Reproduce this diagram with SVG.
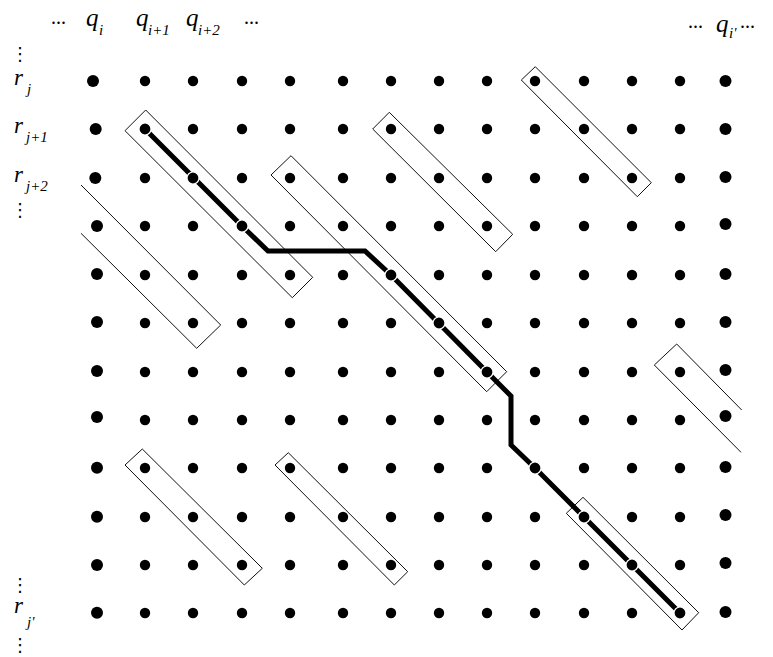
<svg xmlns="http://www.w3.org/2000/svg" xmlns:xlink="http://www.w3.org/1999/xlink" width="773" height="657" viewBox="0 0 773 657">
<style>
.bg{fill:#fff}
.box{fill:none;stroke:#111;stroke-width:1}
.path{fill:none;stroke:#000;stroke-width:5;stroke-linejoin:miter}
.dot{fill:#000}
.pd{fill:#000;stroke:#fff;stroke-width:1.2}
.lbl{font-family:"Liberation Serif","Times New Roman",serif;font-style:italic;fill:#000}
.big{font-size:25px}
.r{font-size:23px}
.sub{font-size:15px}
.ell{font-family:"Liberation Serif","Times New Roman",serif;font-size:20px;fill:#000}
.vd{font-family:"DejaVu Sans",sans-serif;font-size:18px;fill:#000}
</style>
<defs>
<g id="row">
<circle class="dot" cx="145" cy="0" r="5.2"/><circle class="dot" cx="193" cy="0" r="5.2"/><circle class="dot" cx="242" cy="0" r="5.2"/><circle class="dot" cx="290" cy="0" r="5.2"/><circle class="dot" cx="343" cy="0" r="5.2"/><circle class="dot" cx="391" cy="0" r="5.2"/><circle class="dot" cx="439" cy="0" r="5.2"/><circle class="dot" cx="487" cy="0" r="5.2"/><circle class="dot" cx="535" cy="0" r="5.2"/><circle class="dot" cx="584" cy="0" r="5.2"/><circle class="dot" cx="632" cy="0" r="5.2"/><circle class="dot" cx="680" cy="0" r="5.2"/>
</g>
</defs>
<rect class="bg" x="0" y="0" width="773" height="657"/>

<g id="boxes">
<polygon id="boxA" class="box" points="145.7,110 312.7,277.3 292.3,297.7 125,130.7"/>
<polygon id="boxB" class="box" points="389.3,112.3 512.7,234.3 495.7,251.7 372.7,129"/>
<polygon id="boxC" class="box" points="535.3,66.7 651.3,182.7 637.3,196.7 521.3,80"/>
<polygon id="boxD" class="box" points="291,155.7 506.7,371.7 486.7,391.7 271,175"/>
<polyline id="boxE" class="box" points="81,185 220.7,325 196.7,348.3 81,233.3"/>
<polyline id="boxF" class="box" points="741.7,410 676.7,344 654.3,365 741,452.3"/>
<polygon id="boxG" class="box" points="142.3,449 262.3,568.3 244.3,585 125,465"/>
<polygon id="boxH" class="box" points="288.3,452.7 407.7,571.7 394.3,585 275,465"/>
<polygon id="boxI" class="box" points="583,497.3 698.7,612.7 682,630 566.3,513.3"/>
</g>

<g id="connectors">
<path class="path" d="M145,129 L242,226 L268,251 L365,251 L391,275 L487,372 L511,396 L511,445 L535,468 L680,613"/>
</g>

<g id="dots">
<use xlink:href="#row" href="#row" y="81"/>
<use xlink:href="#row" href="#row" y="129"/>
<use xlink:href="#row" href="#row" y="178"/>
<use xlink:href="#row" href="#row" y="226"/>
<use xlink:href="#row" href="#row" y="275"/>
<use xlink:href="#row" href="#row" y="323"/>
<use xlink:href="#row" href="#row" y="372"/>
<use xlink:href="#row" href="#row" y="420"/>
<use xlink:href="#row" href="#row" y="468"/>
<use xlink:href="#row" href="#row" y="517"/>
<use xlink:href="#row" href="#row" y="565"/>
<use xlink:href="#row" href="#row" y="613"/>
<circle class="dot" cx="93" cy="81" r="6"/>
<circle class="dot" cx="95.7" cy="129" r="6"/>
<circle class="dot" cx="95.3" cy="178" r="6"/>
<circle class="dot" cx="97" cy="226" r="6"/>
<circle class="dot" cx="97" cy="274" r="6"/>
<circle class="dot" cx="97" cy="322" r="6"/>
<circle class="dot" cx="97" cy="371" r="6"/>
<circle class="dot" cx="97" cy="417" r="6"/>
<circle class="dot" cx="97" cy="467.7" r="6"/>
<circle class="dot" cx="97" cy="516.7" r="6"/>
<circle class="dot" cx="97" cy="565" r="6"/>
<circle class="dot" cx="97" cy="612.7" r="6"/>
<circle class="dot" cx="725.5" cy="81" r="6"/>
<circle class="dot" cx="725.5" cy="129" r="6"/>
<circle class="dot" cx="725.5" cy="177" r="6"/>
<circle class="dot" cx="725.5" cy="224" r="6"/>
<circle class="dot" cx="725.5" cy="274" r="6"/>
<circle class="dot" cx="725.5" cy="322" r="6"/>
<circle class="dot" cx="725.5" cy="370" r="6"/>
<circle class="dot" cx="725.5" cy="416" r="6"/>
<circle class="dot" cx="725.5" cy="467" r="6"/>
<circle class="dot" cx="725.5" cy="515" r="6"/>
<circle class="dot" cx="725.5" cy="563" r="6"/>
<circle class="dot" cx="725.5" cy="612" r="6"/>
<circle class="pd" cx="145" cy="129" r="6"/>
<circle class="pd" cx="193" cy="178" r="6"/>
<circle class="pd" cx="242" cy="226" r="6"/>
<circle class="pd" cx="391" cy="275" r="6"/>
<circle class="pd" cx="439" cy="323" r="6"/>
<circle class="pd" cx="487" cy="372" r="6"/>
<circle class="pd" cx="535" cy="468" r="6"/>
<circle class="pd" cx="584" cy="517" r="6"/>
<circle class="pd" cx="632" cy="565" r="6"/>
<circle class="pd" cx="680" cy="613" r="6"/>
</g>

<g id="labels">
<text class="ell" x="51" y="24">...</text>
<text class="lbl big" x="86" y="26">q</text><text class="lbl sub" x="99" y="35">i</text>
<text class="lbl big" x="136" y="26">q</text><text class="lbl sub" x="148" y="35">i+1</text>
<text class="lbl big" x="186" y="26">q</text><text class="lbl sub" x="198" y="35">i+2</text>
<text class="ell" x="244" y="24">...</text>
<text class="ell" x="688" y="28">...</text>
<text class="lbl big" x="716" y="32">q</text><text class="lbl sub" x="729" y="38">i'</text>
<text class="ell" x="740" y="28">...</text>

<text class="vd" x="11" y="60">⋮</text>
<text class="lbl r" x="14" y="85">r</text><text class="lbl sub" x="27" y="94">j</text>
<text class="lbl r" x="14" y="133">r</text><text class="lbl sub" x="26" y="142">j+1</text>
<text class="lbl r" x="14" y="182">r</text><text class="lbl sub" x="26" y="191">j+2</text>
<text class="vd" x="11" y="216">⋮</text>
<text class="vd" x="11" y="591">⋮</text>
<text class="lbl r" x="14" y="613">r</text><text class="lbl sub" x="27" y="627">j'</text>
<text class="vd" x="11" y="651">⋮</text>
</g>
</svg>
